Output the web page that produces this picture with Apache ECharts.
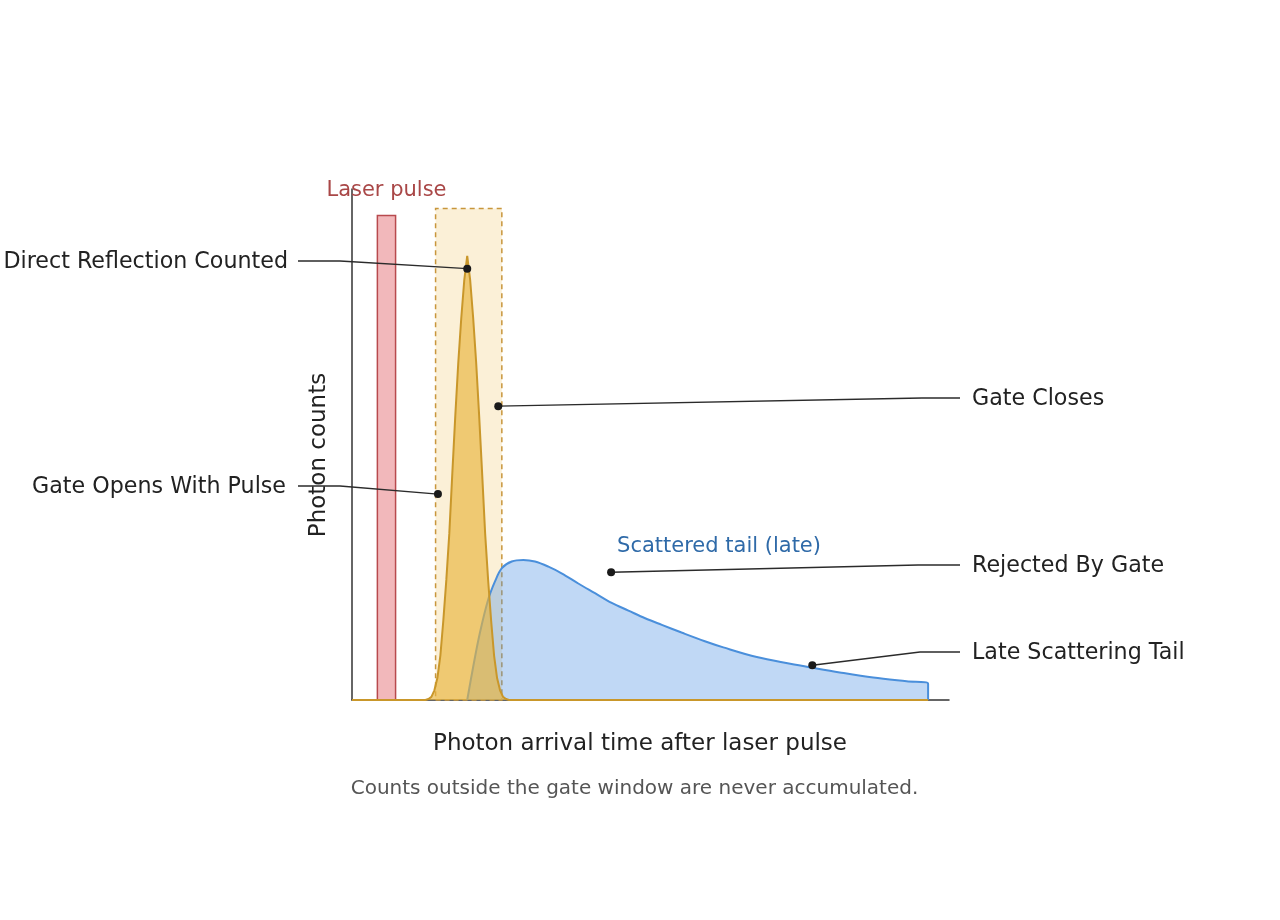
<!DOCTYPE html>
<html>
<head>
<meta charset="utf-8">
<script src="https://cdn.jsdelivr.net/npm/echarts@6/dist/echarts.min.js"></script>
<style>
html,body{margin:0;padding:0;background:#fff;}
#chart{width:1280px;height:920px;}
</style>
</head>
<body>
<div id="chart"></div>
<script>
// ---- data (time in arbitrary units 0..100, counts in arbitrary units 0..100) ----
const directTime   = [0, 12.3, 12.8, 13.3, 13.8, 14.3, 14.8, 15.3, 15.8, 16.3, 16.8, 17.3, 17.8, 18.3, 18.8, 19.3,
                      19.8, 20.3, 20.8, 21.3, 21.8, 22.3, 22.8, 23.3, 23.8, 24.3, 24.8, 25.3, 25.8, 26.3, 96.5];
const directCounts = [0, 0, 0.2, 0.6, 1.9, 4.3, 8.7, 15.6, 23.5, 32.6, 44.3, 55.6, 66, 74.7, 82.1, 86.9,
                      82.1, 74.7, 66, 55.6, 44.3, 32.6, 23.5, 15.6, 8.7, 4.3, 1.9, 0.6, 0.2, 0, 0];

const scatterTime   = [19.3, 20.3, 21.4, 22.8, 23.95, 25.1, 26.75, 28.7, 30.65, 32.9, 35.1, 37.9, 40.7, 43.5, 46.3, 49.1,
                       51.9, 55.2, 59.1, 62.2, 67.8, 73.4, 77.2, 81.7, 87.3, 92.9, 96.5, 96.5];
const scatterCounts = [0, 6.5, 13.0, 19.6, 23.2, 25.8, 27.1, 27.4, 27.1, 26.1, 24.8, 22.8, 20.9, 19.0, 17.5, 16.0,
                       14.7, 13.2, 11.5, 10.3, 8.4, 7.1, 6.3, 5.4, 4.4, 3.65, 3.2, 0];

const laserPulse = { start: 4.25, end: 7.3, height: 94.8 };
const gateWindow = { open: 14.0, close: 25.1, height: 96.2 };

const annotationLabels = ['Direct Reflection Counted', 'Gate Opens With Pulse', 'Gate Closes', 'Rejected By Gate', 'Late Scattering Tail'];
const annotationX = [19.3, 14.4, 24.5, 43.4, 77.1];
const annotationY = [84.4, 40.3, 57.5, 25.0, 6.8];

const laserLabel = 'Laser pulse';
const tailLabel = 'Scattered tail (late)';
const tailLabelPos = [44.4, 30.1];
const xTitle = 'Photon arrival time after laser pulse';
const yTitle = 'Photon counts';
const caption = 'Counts outside the gate window are never accumulated.';

// ---- layout (pixels) ----
const FONT = 'DejaVu Sans';
const annotationLayout = [
  { side: 'left',  y: 261, textEdge: 288, lineStart: 298, elbow: 340 },
  { side: 'left',  y: 486, textEdge: 286, lineStart: 298, elbow: 340 },
  { side: 'right', y: 398, textEdge: 972, lineStart: 960, elbow: 922 },
  { side: 'right', y: 565, textEdge: 972, lineStart: 960, elbow: 918 },
  { side: 'right', y: 652, textEdge: 972, lineStart: 960, elbow: 920 }
];

const chart = echarts.init(document.getElementById('chart'), null, { renderer: 'canvas' });

const option = {
  backgroundColor: '#ffffff',
  animation: false,
  grid: { left: 352, right: 331, top: 189, bottom: 220, containLabel: false },
  xAxis: {
    type: 'value', min: 0, max: 100,
    axisLine: { show: true, lineStyle: { color: '#333333', width: 1.5 } },
    axisTick: { show: false }, axisLabel: { show: false }, splitLine: { show: false }
  },
  yAxis: {
    type: 'value', min: 0, max: 100,
    axisLine: { show: true, lineStyle: { color: '#333333', width: 1.5 } },
    axisTick: { show: false }, axisLabel: { show: false }, splitLine: { show: false }
  },
  series: [
    {
      name: 'Scattered tail',
      type: 'line',
      data: scatterTime.map((t, i) => [t, scatterCounts[i]]),
      showSymbol: false,
      smooth: 0.35,
      sampling: null,
      lineStyle: { color: '#4a8fdb', width: 2 },
      areaStyle: { color: 'rgba(74,144,226,0.35)', opacity: 1 },
      z: 2,
      markArea: {
        silent: true,
        data: [
          [
            { xAxis: laserPulse.start, yAxis: 0,
              itemStyle: { color: '#f2b8bb', borderColor: '#b84a4e', borderWidth: 1.5, opacity: 1 },
              label: { show: true, position: 'top', distance: 14, formatter: laserLabel,
                       color: '#a94747', fontSize: 21, fontFamily: FONT } },
            { xAxis: laserPulse.end, yAxis: laserPulse.height }
          ],
          [
            { xAxis: gateWindow.open, yAxis: 0,
              itemStyle: { color: 'rgba(240,200,110,0.28)', borderColor: '#c8963c', borderWidth: 1.5, borderType: [5, 4], opacity: 1 },
              label: { show: false } },
            { xAxis: gateWindow.close, yAxis: gateWindow.height }
          ]
        ]
      },
      markPoint: {
        silent: true,
        symbol: 'circle', symbolSize: 0,
        data: [{ coord: tailLabelPos, itemStyle: { color: 'rgba(0,0,0,0)' },
                 label: { show: true, position: 'right', distance: 0, formatter: tailLabel,
                          color: '#2f6aa8', fontSize: 21, fontFamily: FONT } }]
      }
    },
    {
      name: 'Direct reflection',
      type: 'line',
      data: directTime.map((t, i) => [t, directCounts[i]]),
      showSymbol: false,
      smooth: false,
      lineStyle: { color: '#c9972a', width: 2 },
      areaStyle: { color: 'rgba(232,180,60,0.65)', opacity: 1 },
      z: 3
    },
    {
      name: 'Annotations',
      type: 'custom',
      coordinateSystem: 'cartesian2d',
      clip: false,
      z: 10,
      silent: true,
      data: annotationX.map((x, i) => [x, annotationY[i], i]),
      encode: { x: 0, y: 1 },
      renderItem: function (params, api) {
        const i = api.value(2);
        const p = api.coord([api.value(0), api.value(1)]);
        const L = annotationLayout[i];
        const left = L.side === 'left';
        return {
          type: 'group',
          children: [
            { type: 'polyline',
              shape: { points: [[L.lineStart, L.y], [L.elbow, L.y], [p[0], p[1]]] },
              style: { stroke: '#2b2b2b', lineWidth: 1.3, fill: null } },
            { type: 'circle', shape: { cx: p[0], cy: p[1], r: 4 },
              style: { fill: '#1a1a1a' } },
            { type: 'text',
              style: { text: annotationLabels[i], x: L.textEdge, y: L.y + 1,
                       align: left ? 'right' : 'left', verticalAlign: 'middle',
                       fontSize: 22.2, fontFamily: FONT, fill: '#222222' } }
          ]
        };
      }
    }
  ],
  graphic: [
    { type: 'text', silent: true,
      style: { text: xTitle, x: 640, y: 744, align: 'center', verticalAlign: 'middle',
               fontSize: 23, fontFamily: FONT, fill: '#222222' } },
    { type: 'text', silent: true, x: 319, y: 455, rotation: Math.PI / 2,
      style: { text: yTitle, x: 0, y: 0, align: 'center', verticalAlign: 'middle',
               fontSize: 23, fontFamily: FONT, fill: '#222222' } },
    { type: 'text', silent: true,
      style: { text: caption, x: 634.5, y: 789, align: 'center', verticalAlign: 'middle',
               fontSize: 20, fontFamily: FONT, fill: '#555555' } }
  ]
};
chart.setOption(option);
</script>
</body>
</html>
